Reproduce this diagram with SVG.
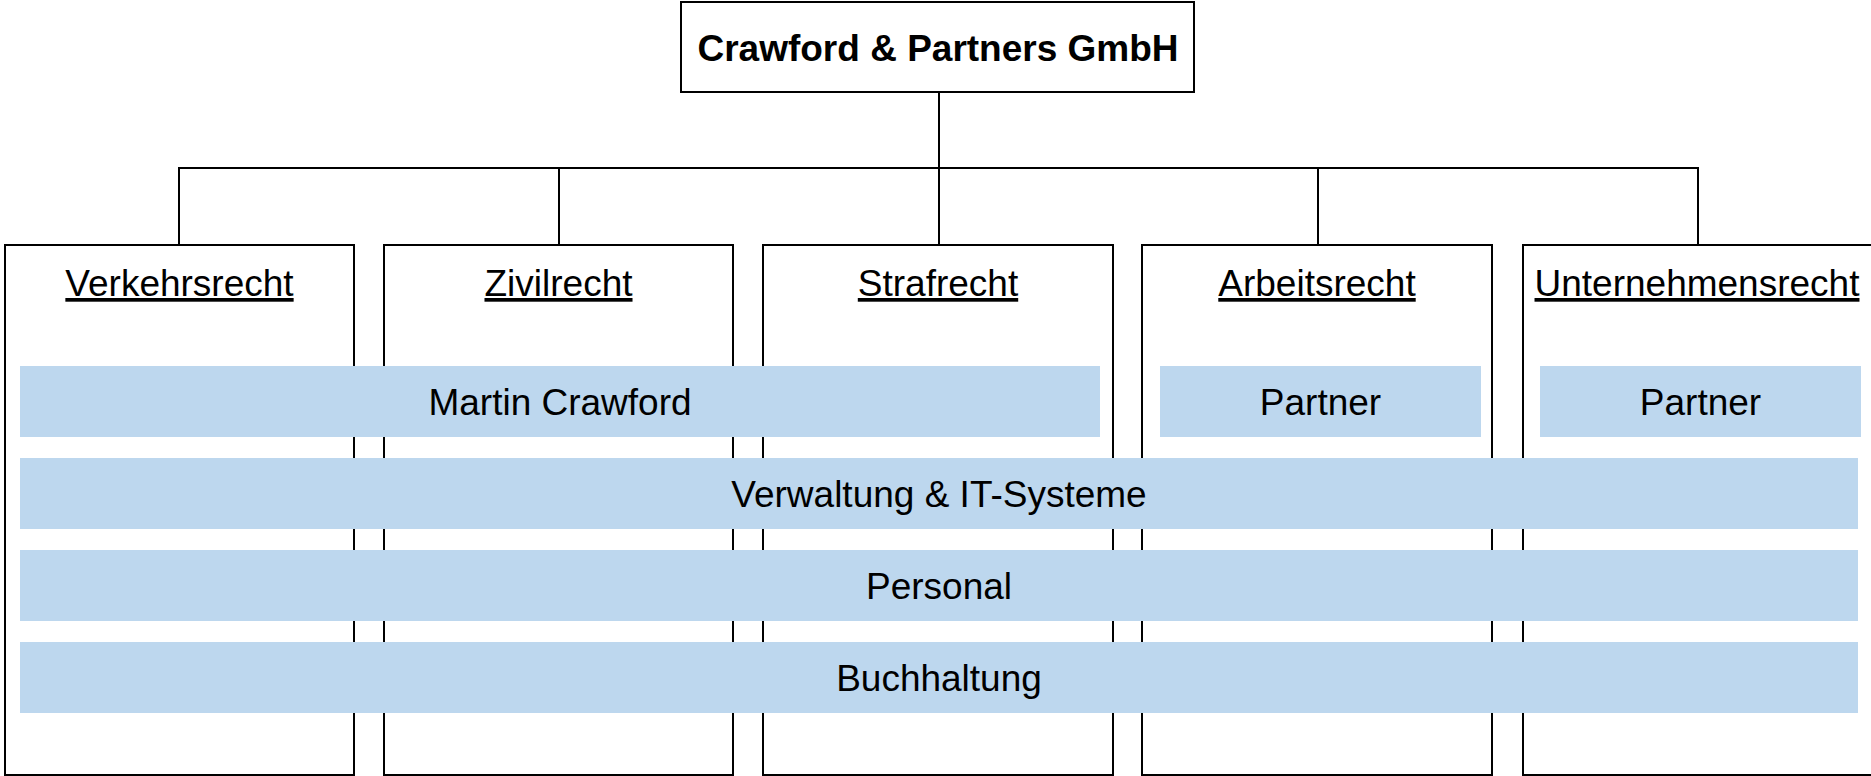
<svg xmlns="http://www.w3.org/2000/svg" width="1871" height="776" viewBox="0 0 1871 776">
<style>
.box{fill:#fff;stroke:#000;stroke-width:2}
.bar{fill:#BDD7EE}
.conn{stroke:#000;stroke-width:2;fill:none}
text{font-family:"Liberation Sans",Arial,sans-serif;font-size:37px;fill:#000;text-anchor:middle}
.title{font-weight:bold}
.dept{text-decoration:underline}
</style>
<rect width="1871" height="776" fill="#fff"/>
<g id="connectors">
<path class="conn" d="M939 92V168M179 245V168H1698V245M559 168V245M939 168V245M1318 168V245"/>
</g>
<g id="root"><rect class="box" x="681" y="2" width="513" height="90"/><text class="title" x="938" y="61">Crawford &amp; Partners GmbH</text></g>
<g id="verkehrsrecht"><rect class="box" x="5" y="245" width="349" height="530"/><text class="dept" x="179.5" y="296">Verkehrsrecht</text></g>
<g id="zivilrecht"><rect class="box" x="384" y="245" width="349" height="530"/><text class="dept" x="558.5" y="296">Zivilrecht</text></g>
<g id="strafrecht"><rect class="box" x="763" y="245" width="350" height="530"/><text class="dept" x="938" y="296">Strafrecht</text></g>
<g id="arbeitsrecht"><rect class="box" x="1142" y="245" width="350" height="530"/><text class="dept" x="1317" y="296">Arbeitsrecht</text></g>
<g id="unternehmensrecht"><rect class="box" x="1523" y="245" width="360" height="530"/><text class="dept" x="1697" y="296">Unternehmensrecht</text></g>
<g id="martin"><rect class="bar" x="20" y="366" width="1080" height="71"/><text x="560" y="415">Martin Crawford</text></g>
<g id="partner1"><rect class="bar" x="1160" y="366" width="321" height="71"/><text x="1320.5" y="415">Partner</text></g>
<g id="partner2"><rect class="bar" x="1540" y="366" width="321" height="71"/><text x="1700.5" y="415">Partner</text></g>
<g id="verwaltung"><rect class="bar" x="20" y="458" width="1838" height="71"/><text x="939" y="507">Verwaltung &amp; IT-Systeme</text></g>
<g id="personal"><rect class="bar" x="20" y="550" width="1838" height="71"/><text x="939" y="599">Personal</text></g>
<g id="buchhaltung"><rect class="bar" x="20" y="642" width="1838" height="71"/><text x="939" y="691">Buchhaltung</text></g>
</svg>
